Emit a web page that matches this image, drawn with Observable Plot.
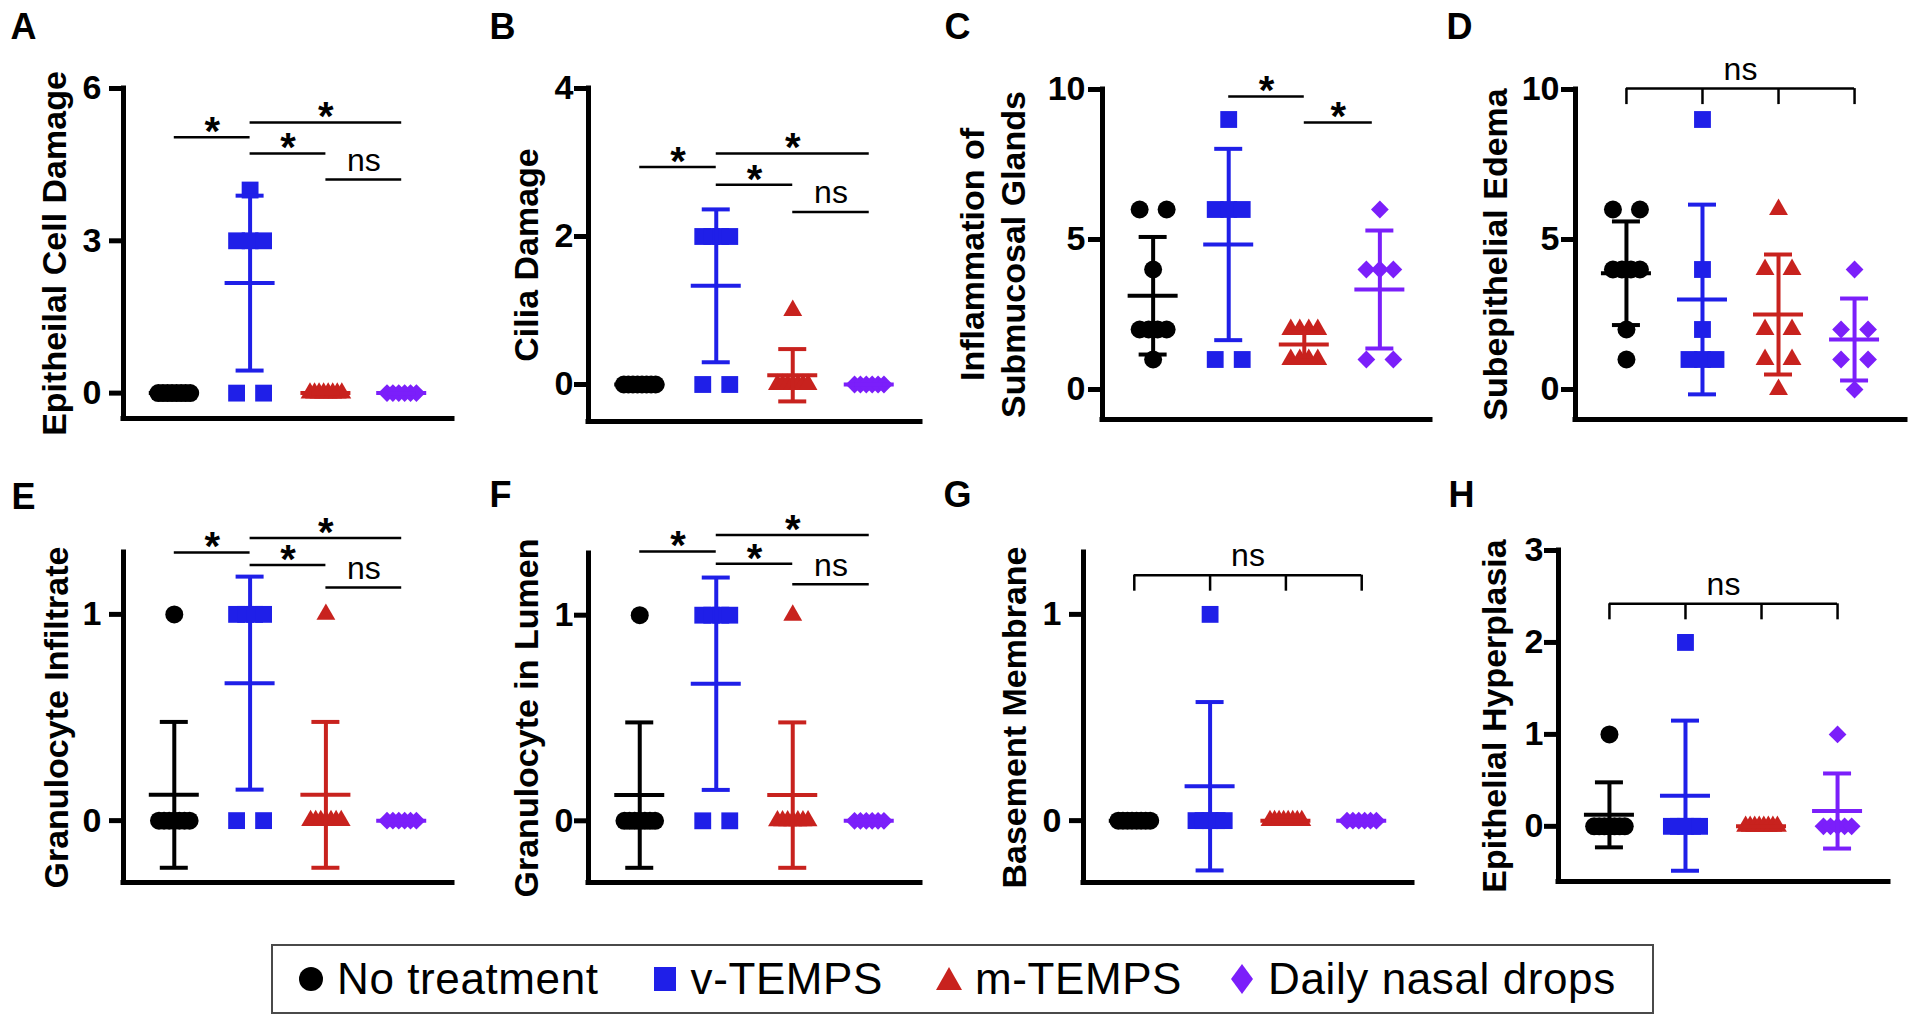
<!DOCTYPE html>
<html>
<head>
<meta charset="utf-8">
<script src="https://cdn.jsdelivr.net/npm/d3@7"></script>
<script src="https://cdn.jsdelivr.net/npm/@observablehq/plot@0.6"></script>
<style>
  html, body { margin: 0; padding: 0; background: #fff; }
  #fig { position: relative; width: 1920px; height: 1024px; overflow: hidden; background: #fff;
         font-family: "Liberation Sans", Arial, Helvetica, sans-serif; }
  .panel { position: absolute; }
  .panel svg { max-width: none !important; background: transparent !important; overflow: visible; display: block; }
  #legend { position: absolute; box-sizing: border-box; display: flex; align-items: center;
            border: 2px solid #4a4a4a; background: #fff; }
  #legend .item { display: flex; align-items: center; }
  #legend .item span { font-size: 44px; letter-spacing: 0.6px; color: #000; line-height: 1; white-space: nowrap; }
</style>
</head>
<body>
<div id="fig"></div>
<script>
// ---------------- data ----------------
const groups = ["No treatment", "v-TEMPS", "m-TEMPS", "Daily nasal drops"];

const epithelialCellDamage = [
  [0, 0, 0, 0, 0, 0, 0, 0],
  [4, 3, 3, 3, 0, 0],
  [0, 0, 0, 0, 0, 0, 0, 0],
  [0, 0, 0, 0, 0, 0]
];
const ciliaDamage = [
  [0, 0, 0, 0, 0, 0, 0, 0],
  [2, 2, 2, 2, 0, 0],
  [1, 0, 0, 0, 0, 0, 0, 0],
  [0, 0, 0, 0, 0, 0]
];
const submucosalGlandInflammation = [
  [6, 6, 4, 2, 2, 2, 2, 1],
  [9, 6, 6, 6, 1, 1],
  [2, 2, 2, 2, 1, 1, 1, 1],
  [6, 4, 4, 4, 1, 1]
];
const subepithelialEdema = [
  [6, 6, 4, 4, 4, 4, 2, 1],
  [9, 4, 2, 1, 1, 1],
  [6, 4, 4, 2, 2, 1, 1, 0],
  [4, 2, 2, 1, 1, 0]
];
const granulocyteInfiltrate = [
  [1, 0, 0, 0, 0, 0, 0, 0],
  [1, 1, 1, 1, 0, 0],
  [1, 0, 0, 0, 0, 0, 0, 0],
  [0, 0, 0, 0, 0, 0]
];
const granulocyteInLumen = [
  [1, 0, 0, 0, 0, 0, 0, 0],
  [1, 1, 1, 1, 0, 0],
  [1, 0, 0, 0, 0, 0, 0, 0],
  [0, 0, 0, 0, 0, 0]
];
const basementMembrane = [
  [0, 0, 0, 0, 0, 0, 0, 0],
  [1, 0, 0, 0, 0, 0],
  [0, 0, 0, 0, 0, 0, 0, 0],
  [0, 0, 0, 0, 0, 0]
];
const epithelialHyperplasia = [
  [1, 0, 0, 0, 0, 0, 0, 0],
  [2, 0, 0, 0, 0, 0],
  [0, 0, 0, 0, 0, 0, 0, 0],
  [1, 0, 0, 0, 0, 0]
];

// y-axis tick labels and ranges
const ticksA = [0, 3, 6],  domainA = [-0.5, 6];
const ticksB = [0, 2, 4],  domainB = [-0.5, 4];
const ticksC = [0, 5, 10], domainC = [-1, 10];
const ticksD = [0, 5, 10], domainD = [-1, 10];
const ticksE = [0, 1],     domainE = [-0.3, 1.3];
const ticksF = [0, 1],     domainF = [-0.3, 1.3];
const ticksG = [0, 1],     domainG = [-0.3, 1.3];
const ticksH = [0, 1, 2, 3], domainH = [-0.6, 3];

// significance annotations (group indices, level in y units)
const bracketsA = [
  {from: 0, to: 1, level: 5.04, label: "*"},
  {from: 1, to: 3, level: 5.33, label: "*"},
  {from: 1, to: 2, level: 4.72, label: "*"},
  {from: 2, to: 3, level: 4.21, label: "ns"}
];
const bracketsB = [
  {from: 0, to: 1, level: 2.94, label: "*"},
  {from: 1, to: 3, level: 3.12, label: "*"},
  {from: 1, to: 2, level: 2.70, label: "*"},
  {from: 2, to: 3, level: 2.33, label: "ns"}
];
const bracketsC = [
  {from: 1, to: 2, level: 9.77, label: "*"},
  {from: 2, to: 2.9, level: 8.9, label: "*"}
];
const bracketsE = [
  {from: 0, to: 1, level: 1.30, label: "*"},
  {from: 1, to: 3, level: 1.37, label: "*"},
  {from: 1, to: 2, level: 1.24, label: "*"},
  {from: 2, to: 3, level: 1.13, label: "ns"}
];
const bracketsF = [
  {from: 0, to: 1, level: 1.31, label: "*"},
  {from: 1, to: 3, level: 1.39, label: "*"},
  {from: 1, to: 2, level: 1.25, label: "*"},
  {from: 2, to: 3, level: 1.15, label: "ns"}
];
const overallD = {level: 10.03, label: "ns"};
const overallG = {level: 1.19, label: "ns"};
const overallH = {level: 2.42, label: "ns"};

const panels = [
  {letter: "A", title: "Epitheilal Cell Damage", values: epithelialCellDamage, ticks: ticksA, domain: domainA, brackets: bracketsA},
  {letter: "B", title: "Cilia Damage", values: ciliaDamage, ticks: ticksB, domain: domainB, brackets: bracketsB},
  {letter: "C", title: "Inflammation of\nSubmucosal Glands", values: submucosalGlandInflammation, ticks: ticksC, domain: domainC, brackets: bracketsC},
  {letter: "D", title: "Subepithelial Edema", values: subepithelialEdema, ticks: ticksD, domain: domainD, overall: overallD},
  {letter: "E", title: "Granulocyte Infiltrate", values: granulocyteInfiltrate, ticks: ticksE, domain: domainE, brackets: bracketsE},
  {letter: "F", title: "Granulocyte in Lumen", values: granulocyteInLumen, ticks: ticksF, domain: domainF, brackets: bracketsF},
  {letter: "G", title: "Basement Membrane", values: basementMembrane, ticks: ticksG, domain: domainG, overall: overallG},
  {letter: "H", title: "Epithelial Hyperplasia", values: epithelialHyperplasia, ticks: ticksH, domain: domainH, overall: overallH}
];

// ---------------- styles & layout ----------------
const FONT = '"Liberation Sans", Arial, Helvetica, sans-serif';
const groupColors = ["#000000", "#1f1fe8", "#c8221e", "#7b1ffa"];
const groupSymbols = ["circle", "square", "triangle", "diamond2"];
const dotR = [9, 9.5, 7, 8];
const TICK = 14;

// frame edges on the page (px)
const layout = [
  {x0: 123,  x1: 452,  y0: 88,  y1: 418, tickPad: 8, labelDx: -71,  letterX: 23,   letterY: 27},
  {x0: 588,  x1: 920,  y0: 88,  y1: 421, tickPad: 1, labelDx: -64,  letterX: 502,  letterY: 27},
  {x0: 1102, x1: 1430, y0: 89,  y1: 419, tickPad: 3, labelDx: -111, letterX: 957,  letterY: 27},
  {x0: 1575, x1: 1905, y0: 89,  y1: 419, tickPad: 2, labelDx: -82,  letterX: 1459, letterY: 27},
  {x0: 123,  x1: 452,  y0: 552, y1: 882, tickPad: 8, labelDx: -69,  letterX: 23,   letterY: 497},
  {x0: 588,  x1: 920,  y0: 553, y1: 882, tickPad: 1, labelDx: -64,  letterX: 500,  letterY: 495},
  {x0: 1083, x1: 1412, y0: 552, y1: 882, tickPad: 8, labelDx: -71,  letterX: 957,  letterY: 495},
  {x0: 1558, x1: 1888, y0: 550, y1: 881, tickPad: 1, labelDx: -66,  letterX: 1461, letterY: 495}
];

const fig = document.getElementById("fig");

function panelPlot(p, L) {
  const [ymin, ymax] = p.domain;
  const W = L.x1 - L.x0, H = L.y1 - L.y0;
  const mL = 150, mT = 100, mR = 20, mB = 12;
  const xDom = [-0.67, 3.67];
  const kx = (xDom[1] - xDom[0]) / W;   // x units per px
  const ky = (ymax - ymin) / H;         // y units per px

  // scatter positions: equal values are spread side by side
  const pts = [];
  p.values.forEach((arr, g) => {
    const counts = d3.rollup(arr, v => v.length, d => d);
    const seen = new Map();
    arr.forEach(v => {
      const n = counts.get(v), j = seen.get(v) || 0;
      seen.set(v, j + 1);
      const spread = n < 2 ? 0 : Math.min(27 + Math.max(0, n - 4) * 1.2, 32);
      const off = n < 2 ? 0 : -spread / 2 + j * spread / (n - 1);
      pts.push({g, v, x: g + off * kx});
    });
  });
  const stats = p.values.map((arr, g) => ({g, mean: d3.mean(arr), sd: d3.deviation(arr) || 0}));

  const marks = [];
  // axis lines, ticks and tick labels
  marks.push(Plot.ruleY([ymin], {x1: xDom[0], x2: xDom[1], strokeWidth: 5, strokeLinecap: "square"}));
  marks.push(Plot.ruleX([xDom[0]], {y1: ymin, y2: ymax, strokeWidth: 5, strokeLinecap: "square"}));
  marks.push(Plot.ruleY(p.ticks, {y: d => d, x1: xDom[0] - TICK * kx, x2: xDom[0], strokeWidth: 5}));
  marks.push(Plot.text(p.ticks, {x: xDom[0], y: d => d, text: d => String(d), textAnchor: "end",
    dx: -(TICK + L.tickPad), fontSize: 34, fontWeight: "bold", lineAnchor: "middle"}));

  // points
  groups.forEach((name, g) => {
    marks.push(Plot.dot(pts.filter(d => d.g === g), {x: "x", y: "v", symbol: groupSymbols[g],
      r: dotR[g], fill: groupColors[g], stroke: "none"}));
  });
  // mean ± SD
  stats.forEach(s => {
    const c = groupColors[s.g];
    marks.push(Plot.ruleX([s], {x: "g", y1: d => d.mean - d.sd, y2: d => d.mean + d.sd, stroke: c, strokeWidth: 4}));
    marks.push(Plot.ruleY([s], {y: "mean", x1: d => d.g - 25 * kx, x2: d => d.g + 25 * kx, stroke: c, strokeWidth: 4}));
    marks.push(Plot.ruleY([s.mean - s.sd, s.mean + s.sd], {x1: s.g - 14 * kx, x2: s.g + 14 * kx, stroke: c, strokeWidth: 4}));
  });

  // significance
  if (p.brackets) {
    marks.push(Plot.ruleY(p.brackets, {y: "level", x1: "from", x2: "to", strokeWidth: 2.5}));
    marks.push(Plot.text(p.brackets.filter(d => d.label === "*"), {x: d => (d.from + d.to) / 2, y: "level",
      text: "label", fontSize: 40, fontWeight: "bold", dy: -5}));
    marks.push(Plot.text(p.brackets.filter(d => d.label !== "*"), {x: d => (d.from + d.to) / 2, y: "level",
      text: "label", fontSize: 32, fontWeight: "normal", dy: -19}));
  }
  if (p.overall) {
    const o = p.overall;
    marks.push(Plot.ruleY([o], {y: "level", x1: 0, x2: 3, strokeWidth: 2.5}));
    marks.push(Plot.ruleX([0, 1, 2, 3], {x: d => d, y1: o.level, y2: o.level - 16 * ky, strokeWidth: 2.5}));
    marks.push(Plot.text([o], {x: 1.5, y: "level", text: "label", fontSize: 32, fontWeight: "normal", dy: -19}));
  }

  // y title and panel letter
  marks.push(Plot.text([p.title], {frameAnchor: "left", text: d => d, rotate: -90, dx: L.labelDx,
    fontSize: 34, fontWeight: "bold", lineHeight: 1.2, textAnchor: "middle", lineAnchor: "middle"}));
  marks.push(Plot.text([p.letter], {frameAnchor: "top-left", text: d => d, dx: L.letterX - L.x0, dy: L.letterY - L.y0,
    fontSize: 36, fontWeight: "bold", textAnchor: "middle", lineAnchor: "middle"}));

  const svg = Plot.plot({
    width: W + mL + mR, height: H + mT + mB,
    marginLeft: mL, marginRight: mR, marginTop: mT, marginBottom: mB,
    x: {domain: xDom, axis: null},
    y: {domain: [ymin, ymax], axis: null},
    style: {background: "transparent", fontFamily: FONT, color: "#000", overflow: "visible"},
    marks
  });
  const div = document.createElement("div");
  div.className = "panel";
  div.style.left = (L.x0 - mL) + "px";
  div.style.top = (L.y0 - mT) + "px";
  div.style.width = (W + mL + mR) + "px";
  div.appendChild(svg);
  fig.appendChild(div);
}

panels.forEach((p, i) => panelPlot(p, layout[i]));

// ---------------- legend ----------------
const legendShapes = [
  d3.symbol(d3.symbolCircle, Math.PI * 12 * 12)(),
  "M-11,-12H11V12H-11Z",
  "M0,-12L13,11H-13Z",
  "M0,-15L11,0L0,15L-11,0Z"
];
const legendGaps = [52, 52, 46, 0];
const legend = document.createElement("div");
legend.id = "legend";
Object.assign(legend.style, {left: "271px", top: "944px", width: "1383px", height: "70px", paddingLeft: "24px"});
groups.forEach((name, g) => {
  const item = document.createElement("div");
  item.className = "item";
  item.style.marginRight = legendGaps[g] + "px";
  const s = d3.create("svg").attr("width", 28).attr("height", 32).attr("viewBox", "-14 -16 28 32")
    .style("margin-right", "12px");
  s.append("path").attr("d", legendShapes[g]).attr("fill", groupColors[g]);
  item.appendChild(s.node());
  const t = document.createElement("span");
  t.textContent = name;
  item.appendChild(t);
  legend.appendChild(item);
});
fig.appendChild(legend);
</script>
</body>
</html>
